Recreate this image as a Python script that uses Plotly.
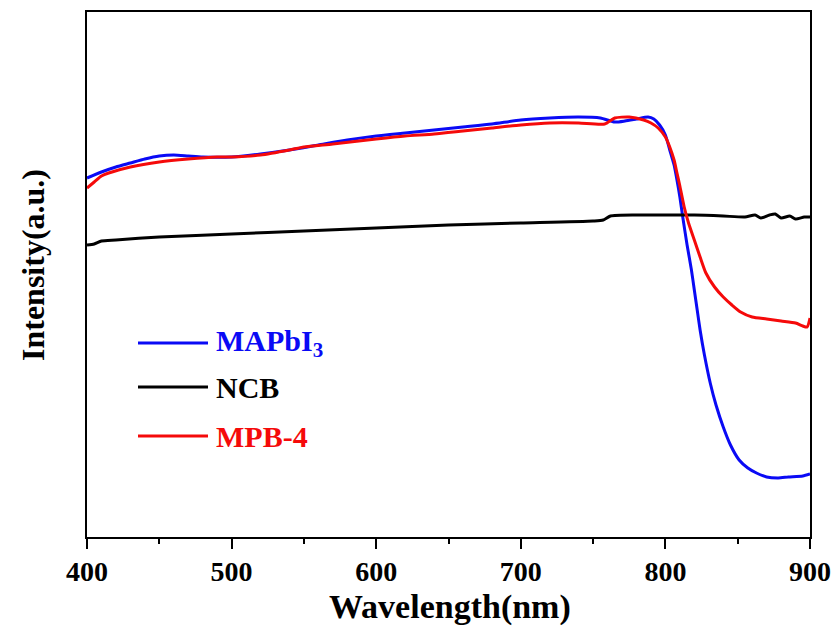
import plotly.graph_objects as go

# ---- data ----
wl_mapbi3 = [400, 410, 420, 430, 440, 450, 460, 470, 480, 500, 520, 540, 560, 580, 600, 620, 640, 660,
             680, 700, 720, 740, 755, 765, 772, 780, 788, 792, 796, 800, 803, 806, 808, 810, 812, 815,
             818, 820, 822, 824, 827, 831, 835, 840, 845, 851, 857, 863, 870, 878, 885, 895, 900]
int_mapbi3 = [359, 365, 370, 374, 378, 381, 382, 381, 380, 380, 383, 387, 392, 397, 401, 404, 407, 410,
              413, 417, 419, 420, 419, 415, 416, 418, 420, 418, 412, 402, 387, 372, 357, 340, 320, 292,
              267, 247, 227, 207, 182, 154, 132, 110, 92, 77, 69, 64, 60, 59, 60, 61, 63]

wl_ncb = [400, 405, 410, 420, 450, 500, 550, 600, 650, 700, 750, 757, 762, 780, 800, 820, 840, 855,
          862, 866, 872, 876, 880, 886, 890, 896, 900]
int_ncb = [292, 293, 296, 297, 300, 303, 306, 309, 312, 314, 316, 317, 321, 322, 322, 322, 321, 320,
           322, 319, 322, 323, 319, 321, 318, 320, 320]

wl_mpb4 = [400, 405, 410, 415, 430, 450, 470, 490, 500, 520, 540, 550, 570, 600, 620, 640, 660, 680,
           700, 720, 740, 758, 765, 775, 785, 790, 795, 800, 803, 806, 808, 810, 813, 816, 820, 824,
           828, 834, 840, 846, 852, 860, 870, 880, 890, 895, 898, 900]
int_mpb4 = [349, 355, 361, 364, 370, 375, 378, 380, 380, 382, 387, 390, 393, 398, 401, 403, 406, 409,
            412, 414, 414, 413, 419, 420, 417, 414, 409, 400, 390, 377, 364, 351, 330, 314, 297, 280,
            264, 250, 240, 232, 225, 220, 218, 216, 214, 211, 210, 219]

series_names = ["MAPbI<sub>3</sub>", "NCB", "MPB-4"]
series_colors = ["#0a0af5", "#000000", "#f50a0a"]
x_ticks = [400, 500, 600, 700, 800, 900]

FONT = "Liberation Serif, Times New Roman, serif"

fig = go.Figure()
for wl, val, name, col in zip([wl_mapbi3, wl_ncb, wl_mpb4], [int_mapbi3, int_ncb, int_mpb4],
                              series_names, series_colors):
    fig.add_trace(go.Scatter(x=wl, y=val, mode="lines", name=name,
                             line=dict(color=col, width=3, shape="spline", smoothing=0.6),
                             showlegend=False))

# legend drawn with paper-coordinate shapes and text
PL, PR, PT, PB = 87, 810, 12, 537
def px2paper(px, py):
    return (px - PL) / (PR - PL), (PB - py) / (PB - PT)

legend_y = [343, 387, 436]
for name, col, ly in zip(series_names, series_colors, legend_y):
    x0, y0 = px2paper(138, ly)
    x1, _ = px2paper(208, ly)
    fig.add_shape(type="line", xref="paper", yref="paper", x0=x0, x1=x1, y0=y0, y1=y0,
                  line=dict(color=col, width=3))
    tx, _ = px2paper(214, ly)
    fig.add_annotation(xref="paper", yref="paper", x=tx, y=y0, text=name, showarrow=False,
                       xanchor="left", yanchor="middle",
                       font=dict(family=FONT, size=30, color=col, weight="bold"))

# axis titles as annotations for exact placement
tx, ty = px2paper(450, 607)
fig.add_annotation(xref="paper", yref="paper", x=tx, y=ty, text="Wavelength(nm)", showarrow=False,
                   xanchor="center", yanchor="middle",
                   font=dict(family=FONT, size=34, color="black", weight="bold"))
tx, ty = px2paper(33, 265)
fig.add_annotation(xref="paper", yref="paper", x=tx, y=ty, text="Intensity(a.u.)", showarrow=False,
                   xanchor="center", yanchor="middle", textangle=-90,
                   font=dict(family=FONT, size=32, color="black", weight="bold"))

fig.update_layout(
    width=840, height=632,
    margin=dict(l=PL, r=840 - PR, t=PT, b=632 - PB, autoexpand=False),
    paper_bgcolor="white", plot_bgcolor="white",
    font=dict(family=FONT, color="black", weight="bold"),
)
fig.update_xaxes(
    range=[400, 900], tickvals=x_ticks, ticktext=[str(t) for t in x_ticks],
    ticks="outside", ticklen=10, tickwidth=2, tickcolor="black", ticklabelstandoff=-2,
    minor=dict(dtick=50, ticks="outside", ticklen=5, tickwidth=2, tickcolor="black"),
    showline=True, linewidth=2, linecolor="black", mirror=True, showgrid=False, zeroline=False,
    automargin=False,
    tickfont=dict(family=FONT, size=28, color="black", weight="bold"),
)
fig.update_yaxes(
    range=[0, 525], showticklabels=False, ticks="", automargin=False,
    showline=True, linewidth=2, linecolor="black", mirror=True, showgrid=False, zeroline=False,
)

fig.write_html("out.html", config={"displayModeBar": False},
               post_script="document.body.style.margin='0';document.body.style.padding='0';")
